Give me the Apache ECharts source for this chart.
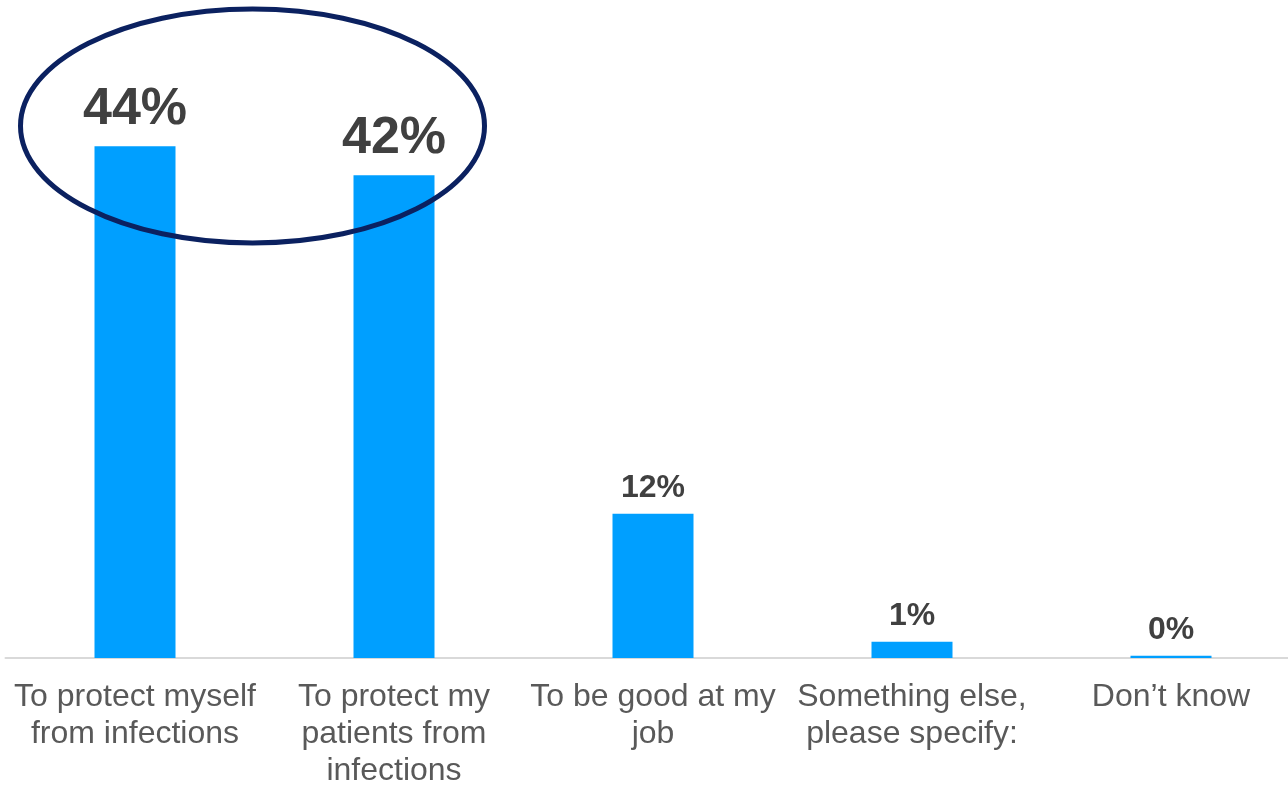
<!DOCTYPE html>
<html>
<head>
<meta charset="utf-8">
<script src="https://cdn.jsdelivr.net/npm/echarts@6/dist/echarts.min.js"></script>
<style>
html,body{margin:0;padding:0;background:#fff;overflow:hidden;width:1288px;height:785px;}
#chart{width:1300px;height:785px;}
</style>
</head>
<body>
<div id="chart"></div>
<script>
const categories = [
  "To protect myself\nfrom infections",
  "To protect my\npatients from\ninfections",
  "To be good at my\njob",
  "Something else,\nplease specify:",
  "Don\u2019t know"
];
const values = [44, 41.5, 12.4, 1.4, 0.2];
const highlighted = [true, true, false, false, false];

const chart = echarts.init(document.getElementById('chart'), null, {renderer: 'canvas'});

const seriesData = values.map((v, i) => ({
  value: v,
  label: highlighted[i]
    ? {fontSize: 52, distance: 11}
    : {fontSize: 32, distance: 10}
}));

chart.setOption({
  animation: false,
  grid: {left: 5.5, width: 1295, top: 76.5, bottom: 127, containLabel: false, outerBoundsMode: 'none'},
  xAxis: {
    type: 'category',
    data: categories,
    axisTick: {show: false},
    axisLine: {lineStyle: {color: '#d9d9d9', width: 2}},
    axisLabel: {
      interval: 0,
      color: '#595959',
      fontFamily: 'Liberation Sans, Arial, sans-serif',
      fontSize: 32,
      lineHeight: 37,
      margin: 21
    }
  },
  yAxis: {
    type: 'value',
    min: 0,
    max: 50,
    show: false,
    splitLine: {show: false}
  },
  series: [{
    type: 'bar',
    data: seriesData,
    barWidth: 81,
    itemStyle: {color: '#009FFF'},
    label: {
      show: true,
      position: 'top',
      color: '#404040',
      fontWeight: 'bold',
      fontFamily: 'Liberation Sans, Arial, sans-serif',
      formatter: p => Math.round(p.value) + '%'
    }
  }],
  graphic: [{
    type: 'ellipse',
    shape: {cx: 252.5, cy: 126, rx: 232, ry: 117},
    style: {fill: 'none', stroke: '#0b2160', lineWidth: 5},
    z: 100
  }]
});
</script>
</body>
</html>
